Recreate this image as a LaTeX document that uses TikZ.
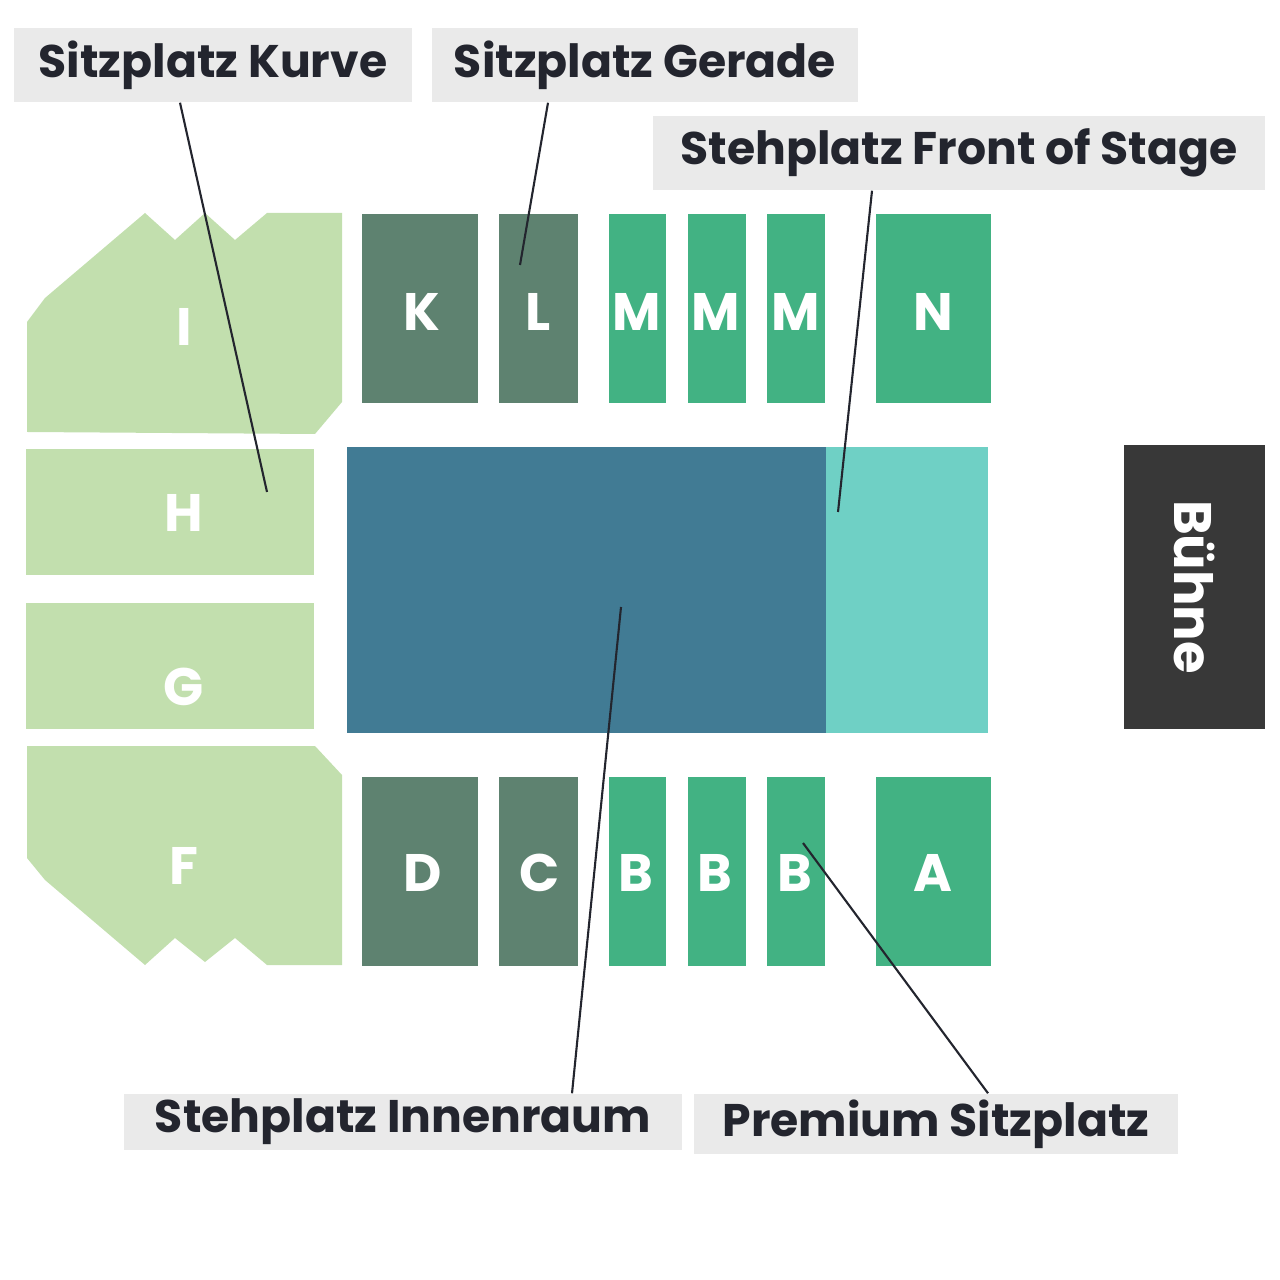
\documentclass[tikz,border=0pt]{standalone}
\usepackage{fontspec}
\setmainfont{Poppins}[BoldFont={* Bold}]
\usetikzlibrary{positioning}
\definecolor{lightgreen}{HTML}{C2DFAE}
\definecolor{darkgreen}{HTML}{5E8270}
\definecolor{midgreen}{HTML}{42B283}
\definecolor{innen}{HTML}{417B94}
\definecolor{front}{HTML}{6FD0C5}
\definecolor{stage}{HTML}{383838}
\definecolor{labelgrey}{HTML}{EAEAEA}
\definecolor{ink}{HTML}{23252E}
\tikzset{
  letter/.style={text=white, font=\fontsize{15}{15}\selectfont\bfseries},
  tag/.style={fill=labelgrey, text=ink, font=\fontsize{13}{13}\selectfont\bfseries, inner sep=0pt, anchor=center},
  pointer/.style={draw=ink, line width=0.6pt}
}
\begin{document}
\begin{tikzpicture}[x=0.01cm, y=-0.01cm]
\useasboundingbox (0,0) rectangle (1280,1280);
% curved blocks
\fill[lightgreen] (27,322) -- (45,298) -- (145,213) -- (175,240) -- (205,213) -- (235,240) -- (267,213) -- (342,213) -- (342,402) -- (315,434) -- (27,432) -- cycle;
\fill[lightgreen] (27,746) -- (315,746) -- (342,775) -- (342,965) -- (267,965) -- (235,938) -- (205,962) -- (175,938) -- (145,965) -- (45,880) -- (27,858) -- cycle;
\fill[lightgreen] (26,449) rectangle (314,575);
\fill[lightgreen] (26,603) rectangle (314,729);
% straight blocks
\fill[darkgreen] (362,214) rectangle (478,403);
\fill[darkgreen] (499,214) rectangle (578,403);
\fill[darkgreen] (362,777) rectangle (478,966);
\fill[darkgreen] (499,777) rectangle (578,966);
\foreach \xa/\xb in {609/666, 688/746, 767/825, 876/991} {
  \fill[midgreen] (\xa,214) rectangle (\xb,403);
  \fill[midgreen] (\xa,777) rectangle (\xb,966);
}
% floor and stage
\fill[innen] (347,447) rectangle (826,733);
\fill[front] (826,447) rectangle (988,733);
\fill[stage] (1124,445) rectangle (1265,729);
\node (buehne) [rotate=-90, text=white, font=\fontsize{15}{15}\selectfont\bfseries] at (1194,587) {Bühne};
% block letters
\node (i) [letter] at (184,327) {I};
\node (h) [letter] at (184,513) {H};
\node (g) [letter] at (184,687) {G};
\node (f) [letter] at (184,866) {F};
\node (k) [letter] at (422,312) {K};
\node (l) [letter] at (538,312) {L};
\node (m1) [letter] at (637,312) {M};
\node (m2) [letter] at (716,312) {M};
\node (m3) [letter] at (796,312) {M};
\node (n) [letter] at (933,312) {N};
\node (d) [letter] at (423,873) {D};
\node (c) [letter] at (540,873) {C};
\node (b1) [letter] at (636,873) {B};
\node (b2) [letter] at (715,873) {B};
\node (b3) [letter] at (795,873) {B};
\node (a) [letter] at (933,873) {A};
% labels
\node (kurve) [tag, minimum width=3.98cm, minimum height=0.74cm] at (213,65) {Sitzplatz Kurve};
\node (gerade) [tag, minimum width=4.26cm, minimum height=0.74cm] at (645,65) {Sitzplatz Gerade};
\node (fos) [tag, minimum width=6.12cm, minimum height=0.74cm] at (959,153) {Stehplatz Front of Stage};
\node (innenraum) [tag, minimum width=5.58cm, minimum height=0.56cm] at (403,1122) {Stehplatz Innenraum};
\node (premium) [tag, minimum width=4.83cm, minimum height=0.60cm] at (936,1124) {Premium Sitzplatz};
% pointers
\coordinate (pk) at (267,492);
\coordinate (pg) at (520,265);
\coordinate (pf) at (838,512);
\coordinate (pi) at (621,607);
\coordinate (pp) at (803,843);
\draw[pointer] (kurve.south -| 180,0) -- (pk);
\draw[pointer] (gerade.south -| 548,0) -- (pg);
\draw[pointer] (fos.south -| 872,0) -- (pf);
\draw[pointer] (innenraum.north -| 572,0) -- (pi);
\draw[pointer] (premium.north -| 988,0) -- (pp);
\end{tikzpicture}
\end{document}
